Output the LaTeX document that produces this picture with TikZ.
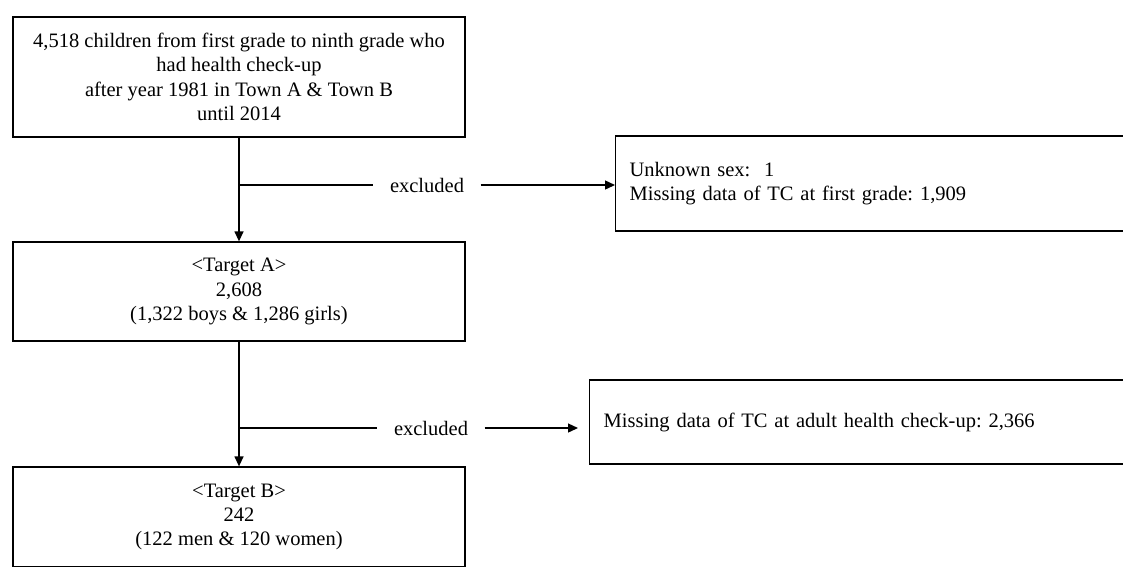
\documentclass[tikz,border=0pt]{standalone}
\usepackage{fontspec}
\setmainfont{Liberation Serif}
\usetikzlibrary{arrows.meta}

\begin{document}
\frenchspacing
\begin{tikzpicture}[x=1pt, y=-1pt, line width=1.3pt,
      every node/.style = {font=\fontsize{20.5}{24.3}\selectfont},
      stepbox/.style = {shape=rectangle, draw, align=center,
        minimum width=452pt, inner sep=0pt},
      exclbox/.style = {shape=rectangle, draw, align=left, anchor=west,
        minimum width=700pt, text width=672pt, inner xsep=14pt},
      exlabel/.style = {inner xsep=16pt, inner ysep=0pt},
      flow/.style = {-{Triangle[length=10pt,width=9pt]}}]
  \useasboundingbox (0,0) rectangle (1123,566);
  \clip (0,0) rectangle (1123,566);
  % main column
  \node[stepbox, minimum height=120pt] (start) at (239,77)
    {4,518 children from first grade to ninth grade who\\had health check-up\\after year 1981 in Town A \& Town B\\until 2014};
  \node[stepbox, minimum height=99pt] (targetA) at (239,291.5)
    {\textless Target A\textgreater\\2,608\\(1,322 boys \& 1,286 girls)};
  \node[stepbox, minimum height=100pt] (targetB) at (239,517)
    {\textless Target B\textgreater\\242\\(122 men \& 120 women)};
  % exclusions
  \node[exclbox, minimum height=95pt] (exclA) at (615,183.5)
    {Unknown sex:\ \ 1\\Missing data of TC at first grade: 1,909};
  \node[exclbox, minimum height=84pt] (exclB) at (589,422)
    {Missing data of TC at adult health check-up: 2,366};
  \node[exlabel] (skipA) at (427,185) {excluded};
  \node[exlabel] (skipB) at (431,428) {excluded};
  \coordinate (forkA) at (start.south |- skipA);
  \coordinate (forkB) at (targetA.south |- skipB);
  % connectors
  \draw[flow] (start) -- (targetA);
  \draw[flow] (targetA) -- (targetB);
  \draw (forkA) -- (skipA);
  \draw[flow] (skipA) -- (exclA.west |- skipA);
  \draw (forkB) -- (skipB);
  \draw[flow, shorten >=11pt] (skipB) -- (exclB.west |- skipB);
\end{tikzpicture}
\end{document}
